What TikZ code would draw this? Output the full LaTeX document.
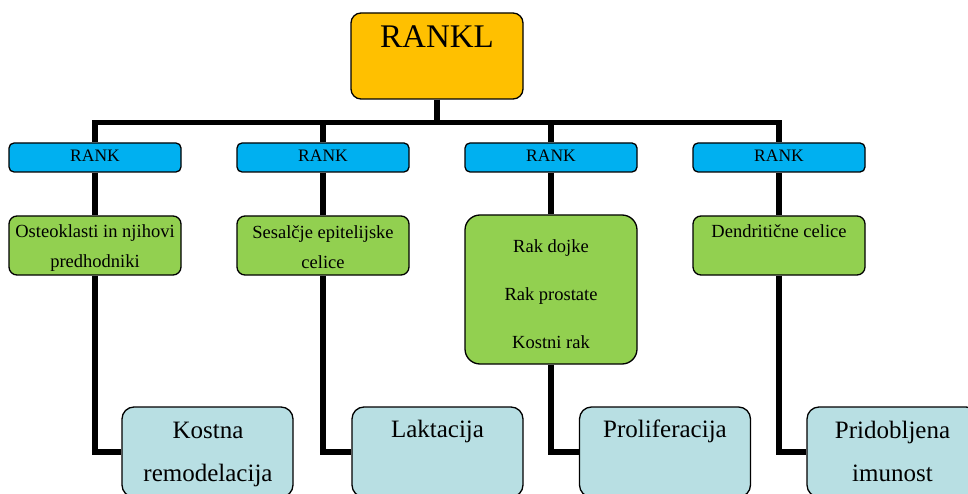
\documentclass[tikz,border=0pt]{standalone}
\usepackage{fontspec}
\setmainfont{Liberation Serif}
\usepackage{tikz}
\usepackage{xcolor}
\definecolor{cTop}{HTML}{FFC000}
\definecolor{cRank}{HTML}{00B0F0}
\definecolor{cCell}{HTML}{92D050}
\definecolor{cEff}{HTML}{B8DFE3}

\begin{document}
\begin{tikzpicture}[
  x=1pt, y=-1pt,
  bx/.style={draw=black, line width=1.3pt, inner sep=0pt},
  topbox/.style={bx, fill=cTop, rounded corners=10pt,
                 minimum width=172pt, minimum height=86pt},
  rankbox/.style={bx, fill=cRank, rounded corners=5pt,
                  minimum width=172pt, minimum height=29pt},
  cellbox/.style={bx, fill=cCell, rounded corners=8pt,
                  minimum width=172pt, minimum height=59pt},
  effbox/.style={bx, fill=cEff, rounded corners=12pt,
                 minimum width=171pt, minimum height=90pt},
  txt/.style={anchor=base, align=center, inner sep=0pt},
  tbig/.style={txt, font=\fontsize{33}{36}\selectfont},
  tsmall/.style={txt, font=\fontsize{17.5}{20}\selectfont},
  tcell/.style={txt, font=\fontsize{18.5}{30}\selectfont},
  teff/.style={txt, font=\fontsize{25}{43}\selectfont},
  conn/.style={draw=black, line width=5.2pt}]

\useasboundingbox (0,0) rectangle (968,494);
\clip (0,0) rectangle (968,494);

% ================= ligand =================
\node[topbox] (rankl) at (437,56) {};
\node[tbig] (rankl-t) at (437,48) {RANKL};

% ================= receptors =================
\node[rankbox] (r1) at (95,157.5) {};
\node[rankbox] (r2) at (323,157.5) {};
\node[rankbox] (r3) at (551,157.5) {};
\node[rankbox] (r4) at (779,157.5) {};
\node[tsmall] (r1-t) at (95,162) {RANK};
\node[tsmall] (r2-t) at (323,162) {RANK};
\node[tsmall] (r3-t) at (551,162) {RANK};
\node[tsmall] (r4-t) at (779,162) {RANK};

% ================= cells =================
% (base = last line)
\node[cellbox] (c1) at (95,245.5) {};
\node[cellbox] (c2) at (323,245.5) {};
\node[cellbox, rounded corners=15pt, minimum height=149pt] (c3) at (551,289.5) {};
\node[cellbox] (c4) at (779,245.5) {};
\node[tcell] (c1-t) at (95,267) {Osteoklasti in njihovi\\predhodniki};
\node[tcell] (c2-t) at (323,268) {Sesalčje epitelijske\\celice};
\node[tcell, font=\fontsize{18.5}{48}\selectfont] (c3-t) at (551,348)
  {Rak dojke\\Rak prostate\\Kostni rak};
\node[tcell] (c4-t) at (779,237) {Dendritične celice};

% ================= effects =================
\node[effbox] (e1) at (207.5,452) {};
\node[effbox] (e2) at (437.5,452) {};
\node[effbox] (e3) at (665,452) {};
\node[effbox] (e4) at (892.5,452) {};
\node[teff] (e1-t) at (208,481) {Kostna\\remodelacija};
\node[teff] (e2-t) at (437.5,437) {Laktacija};
\node[teff] (e3-t) at (665,437) {Proliferacija};
\node[teff] (e4-t) at (892.5,481) {Pridobljena\\imunost};

% ---- connectors ----
\coordinate (busR) at (779,122.5);
\draw[conn] (r1.north) |- (busR) -- (r4.north);
\draw[conn] (rankl.south) -- (rankl.south |- busR);
\draw[conn] (r2.north) -- (r2.north |- busR);
\draw[conn] (r3.north) -- (r3.north |- busR);
\draw[conn] (r1) -- (c1); \draw[conn] (r2) -- (c2);
\draw[conn] (r3) -- (c3); \draw[conn] (r4) -- (c4);
\draw[conn] (c1.south) |- (e1.west);
\draw[conn] (c2.south) |- (e2.west);
\draw[conn] (c3.south) |- (e3.west);
\draw[conn] (c4.south) |- (e4.west);
\end{tikzpicture}
\end{document}
